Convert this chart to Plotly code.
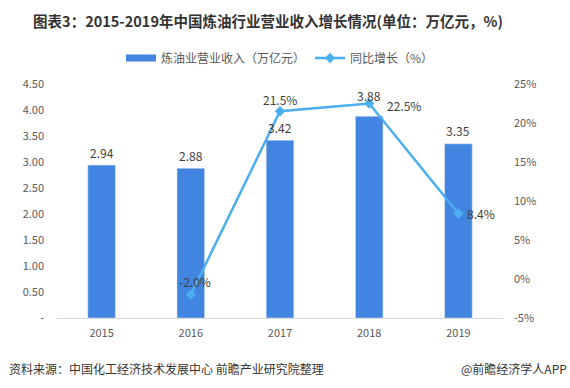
import plotly.graph_objects as go

years = ["2015", "2016", "2017", "2018", "2019"]
revenue = [2.94, 2.88, 3.42, 3.88, 3.35]
growth_years = ["2016", "2017", "2018", "2019"]
growth = [-2.0, 21.5, 22.5, 8.4]
left_ticks = [0, 0.5, 1.0, 1.5, 2.0, 2.5, 3.0, 3.5, 4.0, 4.5]
left_ticktext = ["-", "0.50", "1.00", "1.50", "2.00", "2.50", "3.00", "3.50", "4.00", "4.50"]
right_ticks = [-5, 0, 5, 10, 15, 20, 25]
right_ticktext = ["-5%", "0%", "5%", "10%", "15%", "20%", "25%"]

# label offsets (pixels) to mimic the reference label placement
bar_label_shift = [13, 13, 13, 21, 13]
line_label_xshift = [4, 0, 35, 23]
line_label_yshift = [13, 12, -2, 0]

FONT = "Noto Sans CJK SC"
BAR_C = "#4285E0"
LINE_C = "#4AAEF0"
TXT = "#404040"

fig = go.Figure()
fig.add_trace(go.Bar(
    x=years, y=revenue, name="炼油业营业收入（万亿元）",
    marker_color=BAR_C, width=0.31, showlegend=False,
))
# legend-only entry giving a wide rectangular swatch for the bars
fig.add_trace(go.Scatter(
    x=[years[0]], y=[None], mode="lines", name="炼油业营业收入（万亿元）",
    line=dict(color=BAR_C, width=7), hoverinfo="skip",
))
fig.add_trace(go.Scatter(
    x=growth_years, y=growth, name="同比增长（%）", yaxis="y2",
    mode="lines+markers",
    line=dict(color=LINE_C, width=2.5),
    marker=dict(symbol="diamond", size=8, color=LINE_C),
    cliponaxis=False,
))

annotations = []
for x, v, s in zip(years, revenue, bar_label_shift):
    annotations.append(dict(x=years.index(x), y=v, xref="x", yref="y", text=f"{v:.2f}",
                            showarrow=False, yshift=s, yanchor="middle",
                            font=dict(size=12, color=TXT, family=FONT)))
for x, v, dx, dy in zip(growth_years, growth, line_label_xshift, line_label_yshift):
    annotations.append(dict(x=years.index(x), y=v, xref="x", yref="y2", text=f"{v:.1f}%",
                            showarrow=False, xshift=dx, yshift=dy, yanchor="middle",
                            font=dict(size=12, color=TXT, family=FONT)))
annotations += [
    dict(text="资料来源：中国化工经济技术发展中心 前瞻产业研究院整理", xref="paper", yref="paper",
         x=-50/446, y=-50/234, xanchor="left", yanchor="middle", showarrow=False,
         font=dict(size=12, color="#333333", family=FONT)),
    dict(text="@前瞻经济学人APP", xref="paper", yref="paper",
         x=(569-57)/446, y=-50/234, xanchor="right", yanchor="middle", showarrow=False,
         font=dict(size=12, color="#333333", family=FONT)),
]

fig.update_layout(
    width=570, height=388,
    margin=dict(l=57, r=67, t=84, b=70),
    paper_bgcolor="white", plot_bgcolor="white",
    font=dict(family=FONT, color="#595959", size=11),
    title=dict(text="<b>图表3：2015-2019年中国炼油行业营业收入增长情况(单位：万亿元，%)</b>",
               x=268/570, xanchor="center", y=1-22/388, yanchor="middle",
               font=dict(size=14.5, color="#333333", family=FONT)),
    showlegend=True,
    legend=dict(orientation="h", x=0.5, xanchor="center", y=1+26/234, yanchor="middle",
                font=dict(size=12, color="#595959", family=FONT), itemwidth=30),
    xaxis=dict(type="category", categoryorder="array", categoryarray=years,
               range=[-0.5, len(years) - 0.5],
               showline=True, linecolor="#D9D9D9", linewidth=1, ticks="",
               ticklabelstandoff=5,
               tickfont=dict(size=11, color="#595959"), showgrid=False),
    yaxis=dict(range=[0, 4.5], tickvals=left_ticks, ticktext=left_ticktext,
               showgrid=False, zeroline=False, ticks="", ticklabelstandoff=12,
               tickfont=dict(size=11, color="#595959")),
    yaxis2=dict(range=[-5, 25], tickvals=right_ticks, ticktext=right_ticktext,
                overlaying="y", side="right", showgrid=False, zeroline=False,
                ticks="", ticklabelstandoff=10,
                tickfont=dict(size=11, color="#595959")),
    annotations=annotations,
)

fig.write_html("out.html", config={"displayModeBar": False},
               post_script="document.body.style.margin='0';")
